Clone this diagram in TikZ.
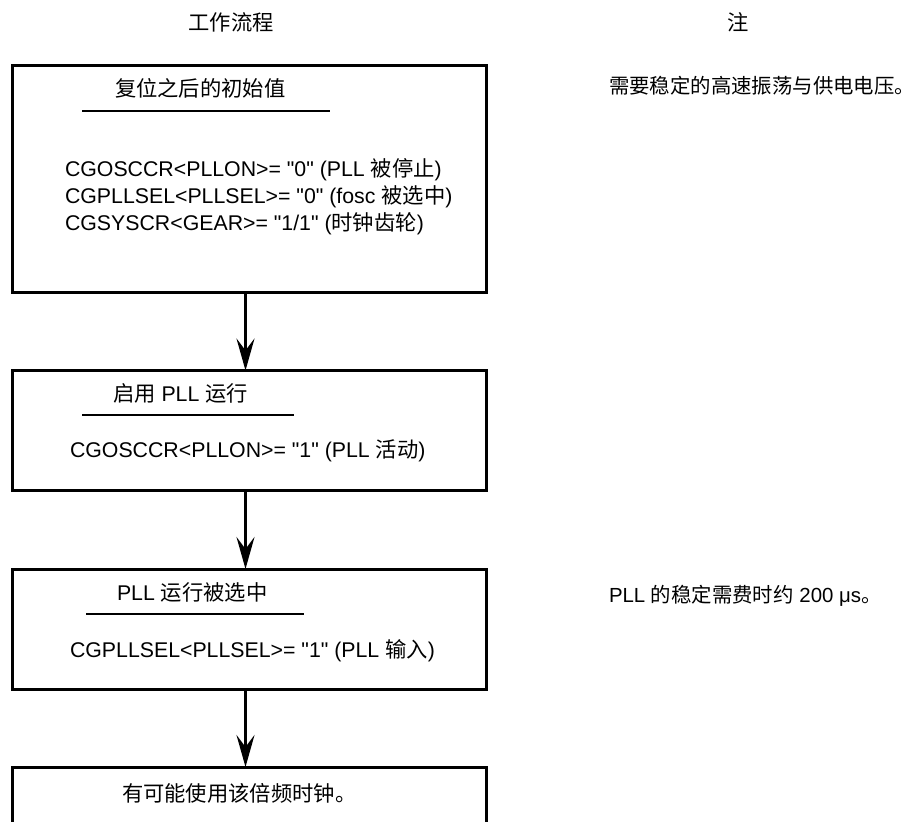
\documentclass[tikz,border=0pt]{standalone}
\usepackage{fontspec}
\setmainfont{Liberation Sans}[Ligatures=TeXOff]
\newfontfamily\cjk{Noto Sans CJK SC}
\usetikzlibrary{arrows.meta}
\begin{document}
\begin{tikzpicture}[x=1pt,y=-1pt,
  every node/.style={inner sep=0pt, outer sep=0pt, font=\fontsize{21.3}{27}\selectfont},
  box/.style={draw, line width=3pt, rectangle, anchor=north west, minimum width=474pt},
  txt/.style={anchor=base west},
  ctr/.style={anchor=base},
  note/.style={anchor=base west, font=\fontsize{20.4}{26}\selectfont},
  rule/.style={line width=2.7pt},
  flow/.style={line width=3pt, -{Stealth[length=32pt,width=18pt,inset=12pt]}}]
\useasboundingbox (0,0) rectangle (917,821);
\clip (0,0) rectangle (917,821);
\fill[white] (0,0) rectangle (917,821);

% column headings
\node[ctr] (hflow) at (231,31) {\cjk 工作流程};
\node[ctr] (hnote) at (738,31) {\cjk 注};

% flow boxes
\node[box, minimum height=226pt] (b1) at (12,66) {};
\node[box, minimum height=119.5pt] (b2) at (12,370.5) {};
\node[box, minimum height=120pt] (b3) at (12,569) {};
\node[box, minimum height=100pt] (b4) at (12,767) {};

% box 1: state after reset
\node[txt] (t1) at (115,97) {\cjk 复位之后的初始值};
\draw[rule] (82,111) -- (330,111);
\node[txt] (t1a) at (65,176.5) {CGOSCCR<PLLON>= "0" (PLL {\cjk 被停止})};
\node[txt] (t1b) at (65,203.5) {CGPLLSEL<PLLSEL>= "0" (fosc {\cjk 被选中})};
\node[txt] (t1c) at (65,230.5) {CGSYSCR<GEAR>= "1/1" ({\cjk 时钟齿轮})};

% box 2: PLL enabled
\node[txt] (t2) at (113,401) {{\cjk 启用} PLL {\cjk 运行}};
\draw[rule] (82,415) -- (294,415);
\node[txt] (t2a) at (70,457.5) {CGOSCCR<PLLON>= "1" (PLL {\cjk 活动})};

% box 3: PLL selected
\node[txt] (t3) at (117,600.5) {PLL {\cjk 运行被选中}};
\draw[rule] (86,614) -- (304,614);
\node[txt] (t3a) at (70,657.5) {CGPLLSEL<PLLSEL>= "1" (PLL {\cjk 输入})};

% box 4: result
\node[txt] (t4) at (122,801) {\cjk 有可能使用该倍频时钟。};

% notes
\node[note] (n1) at (609,94) {\cjk 需要稳定的高速振荡与供电电压。};
\node[note] (n2) at (609,602.5) {PLL {\cjk 的稳定需费时约} 200 μs{\cjk 。}};

% connectors
\coordinate (ax) at (245.5,0);
\draw[flow] (b1.south -| ax) -- (b2.north -| ax);
\draw[flow] (b2.south -| ax) -- (b3.north -| ax);
\draw[flow] (b3.south -| ax) -- (b4.north -| ax);
\end{tikzpicture}
\end{document}
